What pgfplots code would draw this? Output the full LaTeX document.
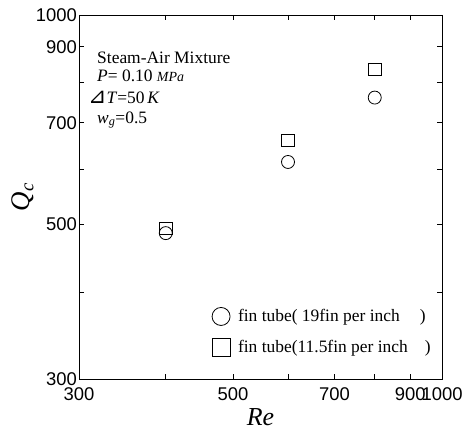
\documentclass[border=0pt]{standalone}
\usepackage{pgfplots}
\pgfplotsset{compat=1.18}
\usepackage{fontspec}
\setmainfont{Liberation Serif}
\newfontfamily\arial{Liberation Sans}
\newfontfamily\dejavu{DejaVu Sans}

\begin{document}
\begin{tikzpicture}
\begin{axis}[
  name=ax,
  xmode=log, ymode=log,
  width=363bp, height=364bp, scale only axis,
  xmin=300, xmax=1000, ymin=300, ymax=1000,
  xtick={300,400,500,600,700,800,900,1000},
  xticklabels={300,,500,,700,,900,1000},
  ytick={300,400,500,600,700,800,900,1000},
  yticklabels={300,,500,,700,,900,1000},
  minor xtick={}, minor ytick={},
  tick align=inside,
  major tick length=5bp,
  /pgf/number format/assume math mode=true,
  ticklabel style={font=\arial\fontsize{18.5}{18.5}\selectfont},
  yticklabel style={inner sep=2bp},
  xticklabel style={inner sep=8.5bp},
  axis line style={line width=0.8bp},
  every tick/.style={line width=0.8bp, black},
  xlabel={\textit{Re}},
  ylabel={\textit{Q}\textsubscript{\textit{c}}},
  xlabel style={font=\fontsize{26}{26}\selectfont, at={(axis description cs:0.5,0)}, anchor=base, yshift=-47bp},
  ylabel style={font=\fontsize{27}{27}\selectfont, at={(axis description cs:0,0.5)}, anchor=center, yshift=56bp},
  legend style={draw=none, fill=none, at={(rel axis cs:0.366,0.197)}, anchor=north west,
    font=\fontsize{17.5}{20}\selectfont, inner sep=0pt, row sep=13bp, column sep=6bp},
  legend cell align=left,
  legend image code/.code={\draw[#1, mark size=9bp] plot coordinates {(0bp,0bp)};},
]
\addplot[only marks, mark=o, mark size=6.5bp, line width=0.8bp, black] coordinates {
  (400,486) (600,615) (800,761)
};
\addlegendentry{fin tube(~19fin per inch\hspace{20bp})}
\addplot[only marks, mark=square, mark size=6.2bp, line width=0.8bp, black] coordinates {
  (400,494) (600,661) (800,836)
};
\addlegendentry{fin tube(11.5fin per inch\hspace{17bp})}

\node[anchor=base west, inner sep=0pt, font=\fontsize{17.5}{20}\selectfont] at (axis description cs:0.0496,0.868) {Steam-Air Mixture};
\node[anchor=base west, inner sep=0pt, font=\fontsize{17.5}{20}\selectfont] at (axis description cs:0.0496,0.816) {\textit{P}= 0.10 {\fontsize{14}{15}\selectfont\textit{MPa}}};
\node[anchor=base west, inner sep=0pt, font=\fontsize{17.5}{20}\selectfont] at (axis description cs:0.0248,0.758) {{\dejavu\fontsize{22}{22}\selectfont ⊿}\textit{T}=50\,\textit{K}};
\node[anchor=base west, inner sep=0pt, font=\fontsize{17.5}{20}\selectfont] at (axis description cs:0.0496,0.703) {\textit{w}\textsubscript{\textit{g}}=0.5};
\end{axis}
\pgfresetboundingbox
\path (ax.south west) ++(-79bp,-53bp) rectangle ++(464bp,432bp);
\end{tikzpicture}
\end{document}
